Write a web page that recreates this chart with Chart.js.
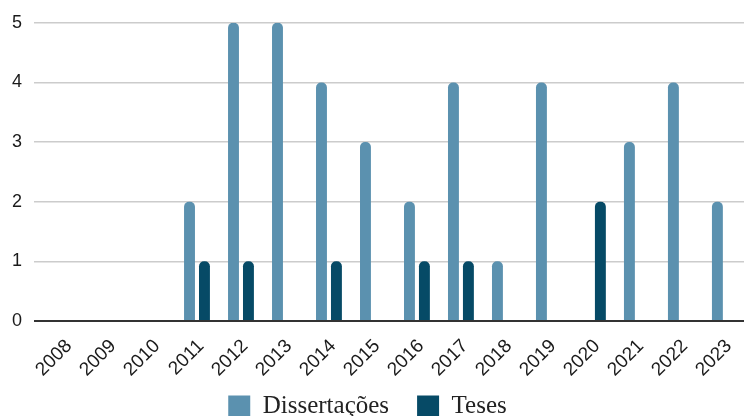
<!DOCTYPE html>
<html><head><meta charset="utf-8">
<script src="https://cdn.jsdelivr.net/npm/chart.js@4"></script>
<style>
html,body{margin:0;padding:0;overflow:hidden;background:#fff;width:744px;height:416px}
#wrap{position:absolute;left:0;top:0;width:755px;height:429px}
</style></head>
<body><div id="wrap"><canvas id="c"></canvas></div>
<script>
const categories = ['2008','2009','2010','2011','2012','2013','2014','2015','2016','2017','2018','2019','2020','2021','2022','2023'];
const dissertacoes = [0,0,0,2,5,5,4,3,2,4,1,4,0,3,4,2];
const teses = [0,0,0,1,1,0,1,0,1,1,0,0,2,0,0,0];
const yTicks = [0,1,2,3,4,5];

const LEGEND_SHRINK = 29, LEGEND_SHIFT_X = -10;
const legendTweak = {
  id:'legendTweak',
  afterInit(chart){
    const lg = chart.legend;
    const fit = lg.fit.bind(lg), draw = lg.draw.bind(lg);
    lg.fit = function(){ fit(); this.height -= LEGEND_SHRINK; };
    lg.draw = function(){
      const t = this.top, l = this.left, r = this.right;
      this.top = t - LEGEND_SHRINK; this.left = l + LEGEND_SHIFT_X; this.right = r + LEGEND_SHIFT_X;
      draw();
      this.top = t; this.left = l; this.right = r;
    };
  }
};

const barStyle = {categoryPercentage:0.68, barPercentage:0.73, borderRadius:{topLeft:5,topRight:5,bottomLeft:0,bottomRight:0}, borderSkipped:'bottom'};
new Chart(document.getElementById('c'), {
  type:'bar',
  data:{labels:categories, datasets:[
    Object.assign({label:'Dissertações', data:dissertacoes, backgroundColor:'#5b91af'}, barStyle),
    Object.assign({label:'Teses', data:teses, backgroundColor:'#064a66'}, barStyle)
  ]},
  plugins:[legendTweak],
  options:{
    responsive:true, maintainAspectRatio:false, animation:false,
    layout:{padding:{top:11,right:0,left:0,bottom:0}},
    plugins:{
      legend:{position:'bottom', labels:{boxWidth:22, boxHeight:22, padding:28, color:'#222', font:{family:'Liberation Serif', size:25}}},
      tooltip:{enabled:false}
    },
    scales:{
      x:{grid:{display:false, drawTicks:false}, border:{display:false},
         ticks:{minRotation:45, maxRotation:45, labelOffset:4, color:'#1a1a1a', font:{family:'Liberation Sans', size:19}, padding:14}},
      y:{min:0, max:5, afterBuildTicks:(s)=>{s.ticks=yTicks.map(v=>({value:v}));},
         grid:{color:(ctx)=>ctx.tick && ctx.tick.value===0 ? '#333' : '#cccccc', lineWidth:(ctx)=>ctx.tick && ctx.tick.value===0 ? 2 : 1.5, tickLength:9},
         border:{display:false},
         ticks:{color:'#1a1a1a', font:{family:'Liberation Sans', size:18}, padding:12}}
    }
  }
});
</script></body></html>
